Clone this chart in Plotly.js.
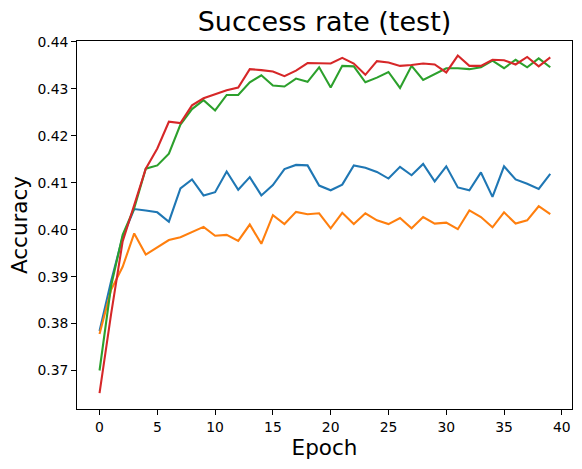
<!DOCTYPE html>
<html>
<head>
<meta charset="utf-8">
<script src="https://cdn.plot.ly/plotly-3.0.1.min.js"></script>
<style>html,body{margin:0;padding:0;background:#fff;}#chart{width:582px;height:469px;}</style>
</head>
<body>
<div id="chart"></div>
<script>
const epochs = Array.from({length: 40}, (_, i) => i);
const seriesBlue = [0.3784,0.3890,0.3985,0.4044,0.4041,0.4037,0.4017,0.4088,0.4107,0.4073,
  0.4080,0.4124,0.4085,0.4112,0.4073,0.4095,0.4129,0.4138,0.4137,0.4094,
  0.4084,0.4096,0.4137,0.4132,0.4123,0.4109,0.4134,0.4116,0.4140,0.4103,
  0.4135,0.4090,0.4084,0.4122,0.4070,0.4135,0.4107,0.4098,0.4087,0.4119];
const seriesOrange = [0.3778,0.3872,0.3921,0.3992,0.3947,0.3963,0.3978,0.3984,0.3995,0.4006,
  0.3987,0.3989,0.3976,0.4011,0.3970,0.4031,0.4012,0.4038,0.4033,0.4035,
  0.4003,0.4036,0.4012,0.4035,0.4020,0.4012,0.4025,0.4003,0.4027,0.4013,
  0.4015,0.4001,0.4041,0.4027,0.4005,0.4037,0.4013,0.4020,0.4050,0.4033];
const seriesGreen = [0.3700,0.3880,0.3989,0.4046,0.4130,0.4137,0.4162,0.4224,0.4257,0.4276,
  0.4254,0.4287,0.4287,0.4314,0.4329,0.4307,0.4305,0.4322,0.4315,0.4346,
  0.4303,0.4349,0.4348,0.4314,0.4324,0.4336,0.4302,0.4349,0.4319,0.4331,
  0.4344,0.4344,0.4342,0.4346,0.4360,0.4344,0.4362,0.4346,0.4365,0.4346];
const seriesRed = [0.3652,0.3820,0.3975,0.4050,0.4130,0.4173,0.4230,0.4227,0.4265,0.4280,
  0.4289,0.4297,0.4303,0.4342,0.4340,0.4337,0.4327,0.4339,0.4355,0.4354,
  0.4354,0.4366,0.4354,0.4330,0.4359,0.4356,0.4349,0.4351,0.4354,0.4352,
  0.4335,0.4371,0.4349,0.4349,0.4362,0.4361,0.4352,0.4368,0.4348,0.4367];
const xTicks = [0,5,10,15,20,25,30,35,40];
const yTicks = [0.37,0.38,0.39,0.40,0.41,0.42,0.43,0.44];
const yTickText = ['0.37','0.38','0.39','0.40','0.41','0.42','0.43','0.44'];

const series = [
  {y: seriesBlue, color: '#1f77b4'},
  {y: seriesOrange, color: '#ff7f0e'},
  {y: seriesGreen, color: '#2ca02c'},
  {y: seriesRed, color: '#d62728'}
];
const data = series.map(s => ({
  x: epochs, y: s.y, type: 'scatter', mode: 'lines',
  line: {color: s.color, width: 2.08}, showlegend: false, hoverinfo: 'skip'
}));
const font = 'DejaVu Sans, sans-serif';
const layout = {
  width: 582, height: 469,
  margin: {l: 77, r: 10, t: 41, b: 60, pad: 0},
  paper_bgcolor: '#fff', plot_bgcolor: '#fff',
  font: {family: font, color: '#000', size: 13.9},
  title: {text: 'Success rate (test)', font: {family: font, size: 27, color: '#000'},
          x: 0.5575, xanchor: 'center', y: 0.9744, yanchor: 'top'},
  xaxis: {
    range: [-1.95, 40.88], tickvals: xTicks, ticktext: xTicks.map(String),
    ticks: 'outside', ticklen: 4.9, tickwidth: 1, tickcolor: '#000',
    showline: true, mirror: true, linecolor: '#000', linewidth: 1,
    showgrid: false, zeroline: false,
    tickfont: {family: font, size: 13.9, color: '#000'},
    title: {text: 'Epoch', font: {family: font, size: 21.5, color: '#000'}, standoff: 6}
  },
  yaxis: {
    range: [0.3618, 0.4402], tickvals: yTicks, ticktext: yTickText,
    ticks: 'outside', ticklen: 4.9, tickwidth: 1, tickcolor: '#000',
    showline: true, mirror: true, linecolor: '#000', linewidth: 1,
    showgrid: false, zeroline: false,
    tickfont: {family: font, size: 13.9, color: '#000'},
    title: {text: 'Accuracy', font: {family: font, size: 21.5, color: '#000'}, standoff: 3}
  }
};
Plotly.newPlot('chart', data, layout, {displayModeBar: false, staticPlot: true});
</script>
</body>
</html>
